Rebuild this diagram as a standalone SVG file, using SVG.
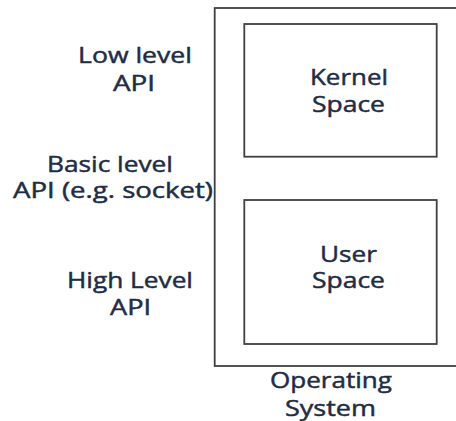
<svg xmlns="http://www.w3.org/2000/svg" width="456" height="421" viewBox="0 0 456 421">
<style>
.box{fill:#fff;stroke:#404040;stroke-width:1.8}
.t{font-family:"Open Sans","Liberation Sans",sans-serif;font-size:21px;fill:#1e2d45;stroke:#1e2d45;stroke-width:0.45}
</style>
<rect width="456" height="421" fill="#fff"/>
<g id="os">
<rect class="box" x="214.7" y="8" width="260" height="358"/>
<text class="t" x="270" y="388" textLength="122" lengthAdjust="spacingAndGlyphs">Operating</text>
<text class="t" x="285" y="416" textLength="91" lengthAdjust="spacingAndGlyphs">System</text>
</g>
<g id="kernel">
<rect class="box" x="244.3" y="24" width="192.4" height="132.7"/>
<text class="t" x="310" y="85" textLength="78" lengthAdjust="spacingAndGlyphs">Kernel</text>
<text class="t" x="312" y="112" textLength="73" lengthAdjust="spacingAndGlyphs">Space</text>
</g>
<g id="user">
<rect class="box" x="244.3" y="200" width="192.4" height="144"/>
<text class="t" x="320" y="262" textLength="57" lengthAdjust="spacingAndGlyphs">User</text>
<text class="t" x="312" y="288" textLength="73" lengthAdjust="spacingAndGlyphs">Space</text>
</g>
<g id="low-api">
<text class="t" x="78" y="63" textLength="114" lengthAdjust="spacingAndGlyphs">Low level</text>
<text class="t" x="113" y="91" textLength="42" lengthAdjust="spacingAndGlyphs">API</text>
</g>
<g id="basic-api">
<text class="t" x="47" y="172" textLength="126" lengthAdjust="spacingAndGlyphs">Basic level</text>
<text class="t" x="13" y="198" textLength="200" lengthAdjust="spacingAndGlyphs">API (e.g. socket)</text>
</g>
<g id="high-api">
<text class="t" x="67" y="288" textLength="126" lengthAdjust="spacingAndGlyphs">High Level</text>
<text class="t" x="110" y="315" textLength="41" lengthAdjust="spacingAndGlyphs">API</text>
</g>
<g id="connectors"></g>
</svg>
